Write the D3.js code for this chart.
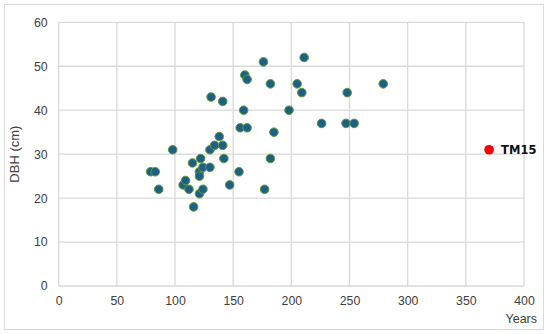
<!DOCTYPE html>
<html><head><meta charset="utf-8">
<script src="https://cdn.jsdelivr.net/npm/d3@7"></script>
<style>body{margin:0;background:#fff}svg{display:block}</style>
</head><body><svg id="c" width="550" height="334"></svg>
<script>
const years = [79,83,86,98,107,109,112,115,116,121,121,121,122,124,124,130,130,131,134,138,141,141,142,147,155,156,159,160,162,162,176,177,182,182,185,198,205,209,211,226,247,254,248,279];
const dbh   = [26,26,22,31,23,24,22,28,18,26,25,21,29,27,22,31,27,43,32,34,32,42,29,23,26,36,40,48,47,36,51,22,46,29,35,40,46,44,52,37,37,37,44,46];
const highlightYears = [370];
const highlightDbh = [31];
const highlightLabels = ["TM15"];
const xTicks = [0,50,100,150,200,250,300,350,400];
const yTicks = [0,10,20,30,40,50,60];

const svg = d3.select("#c");
const font = "'Liberation Sans', Arial, sans-serif";
svg.append("rect").attr("x",4.5).attr("y",4.5).attr("width",539).attr("height",325)
  .attr("fill","#fff").attr("stroke","#d9d9d9").attr("stroke-width",1);

const x = d3.scaleLinear().domain([0,400]).range([58.7,524]);
const y = d3.scaleLinear().domain([0,60]).range([286,22.3]);

const g = svg.append("g");
g.selectAll(".vg").data(xTicks).join("line")
  .attr("x1",d=>x(d)).attr("x2",d=>x(d)).attr("y1",y(0)).attr("y2",y(60))
  .attr("stroke","#d9d9d9").attr("stroke-width",1.3);
g.selectAll(".hg").data(yTicks).join("line")
  .attr("y1",d=>y(d)).attr("y2",d=>y(d)).attr("x1",x(0)).attr("x2",x(400))
  .attr("stroke","#d9d9d9").attr("stroke-width",1.3);

const xAxis = d3.axisBottom(x).tickValues(xTicks).tickSize(0).tickPadding(10);
svg.append("g").attr("transform",`translate(0,${y(0)})`).call(xAxis)
  .call(a=>a.select(".domain").remove())
  .call(a=>a.selectAll("text").attr("font-family",font).attr("font-size",12.3).attr("fill","#404040"));
const yAxis = d3.axisLeft(y).tickValues(yTicks).tickSize(0).tickPadding(11);
svg.append("g").attr("transform",`translate(${x(0)},0)`).call(yAxis)
  .call(a=>a.select(".domain").remove())
  .call(a=>a.selectAll("text").attr("font-family",font).attr("font-size",12.3).attr("fill","#404040"));

svg.append("text").attr("x",537).attr("y",323).attr("text-anchor","end")
  .attr("font-family",font).attr("font-size",12.5).attr("fill","#404040").text("Years");
svg.append("text").attr("transform",`translate(18.5,${(y(0)+y(60))/2}) rotate(-90)`)
  .attr("text-anchor","middle").attr("font-family",font).attr("font-size",13).attr("fill","#404040").text("DBH (cm)");

const pts = years.map((v,i)=>({x:v,y:dbh[i]}));
svg.append("g").selectAll("circle").data(pts).join("circle")
  .attr("cx",d=>x(d.x)).attr("cy",d=>y(d.y)).attr("r",4.3)
  .attr("fill","#1f5f86").attr("stroke","#5a9e34").attr("stroke-width",1);

const hp = highlightYears.map((v,i)=>({x:v,y:highlightDbh[i],l:highlightLabels[i]}));
svg.append("g").selectAll("circle").data(hp).join("circle")
  .attr("cx",d=>x(d.x)).attr("cy",d=>y(d.y)).attr("r",4.8).attr("fill","#ff0000");
svg.append("g").selectAll("text").data(hp).join("text")
  .attr("x",d=>x(d.x)+12).attr("y",d=>y(d.y)+4.5)
  .attr("font-family","'DejaVu Sans', Verdana, sans-serif").attr("font-weight","bold").attr("font-size",11.5)
  .attr("fill","#111").text(d=>d.l);
</script></body></html>
